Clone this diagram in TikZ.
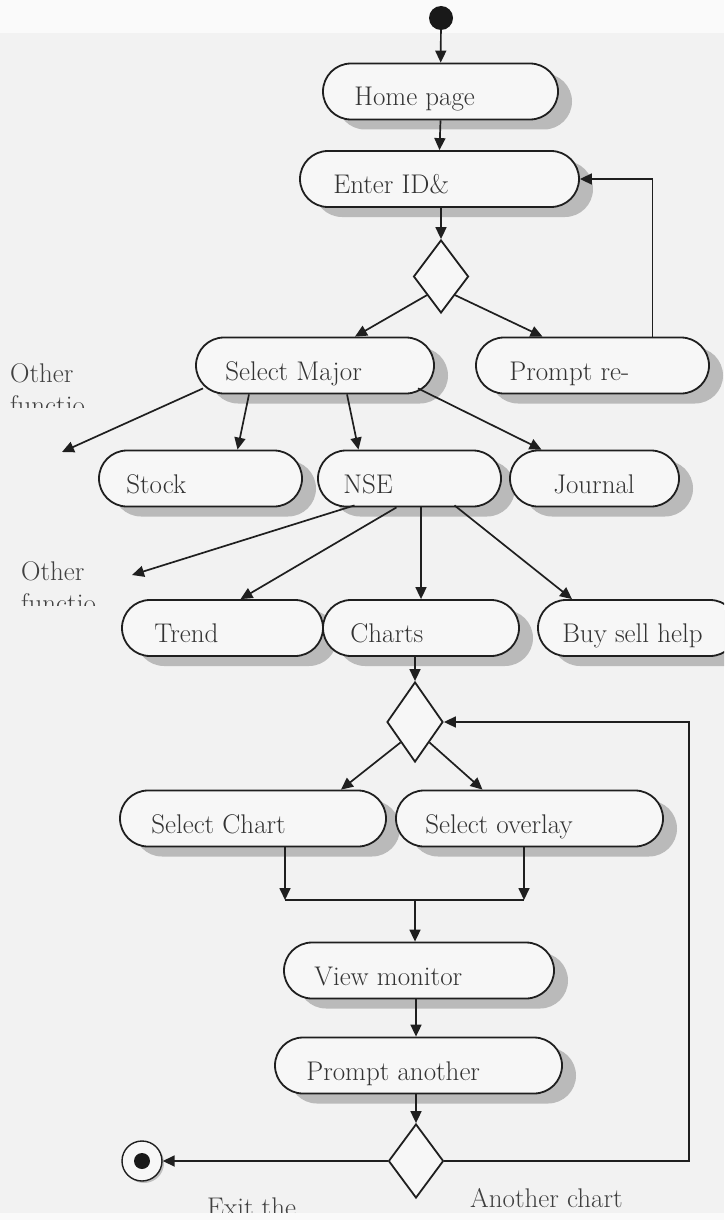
\documentclass[tikz,border=0pt]{standalone}
\usetikzlibrary{shapes.misc,shapes.geometric,shadows,arrows.meta}
\begin{document}
\begin{tikzpicture}[x=1pt,y=-1pt,
  flow/.style={line width=1.7pt, draw=black!88, -{Triangle[length=12pt,width=11pt]}},
  plain/.style={line width=1.7pt, draw=black!88},
  stadium/.style={rounded rectangle, draw=black!88, line width=1.8pt, fill=black!3,
    minimum height=56pt, inner sep=0pt,
    drop shadow={shadow xshift=14pt, shadow yshift=-10pt, fill=black!27, opacity=1}},
  choice/.style={diamond, draw=black!88, line width=1.8pt, fill=black!3, inner sep=0pt},
  boxtext/.style={anchor=base west, inner sep=0pt, font=\fontsize{27}{32}\selectfont, text=black!80},
  note/.style={anchor=base west, inner sep=0pt, font=\fontsize{27}{32}\selectfont, text=black!75}
]
% activity box: name, x, y, width, text indent, label
\newcommand\actbox[6]{%
  \node[stadium, minimum width=#4pt] (#1) at (#2,#3) {};
  \node[boxtext] (#1-t) at ([xshift=#5pt,yshift=-14.5pt]#1.west) {#6};
}
\clip (0,0) rectangle (724,1220);
\fill[black!5] (0,0) rectangle (724,1220);
\fill[black!2] (0,0) rectangle (724,33);

% initial node
\node[circle, fill=black!90, minimum size=24pt, inner sep=0pt] (start) at (441,18) {};

% activities and decisions
\actbox{home}{440.5}{91.5}{235}{32}{Home page}
\actbox{eid}{439.5}{179}{279}{34}{Enter ID\&}
\node[choice, minimum width=55pt, minimum height=73pt] (d1) at (441,276.5) {};
\actbox{sm}{315}{365.5}{238}{30}{Select Major}
\actbox{pr}{592.5}{365.5}{233}{34}{Prompt re-}
\actbox{stock}{200.5}{478.5}{203}{28}{Stock}
\actbox{nse}{409.5}{478.5}{183}{26}{NSE}
\actbox{jour}{594.5}{478.5}{169}{44}{Journal}
\actbox{trend}{222.5}{628}{201}{33}{Trend}
\actbox{charts}{421}{628}{196}{28}{Charts}
\actbox{buy}{638}{628}{200}{25}{Buy sell help}
\node[choice, minimum width=56pt, minimum height=80pt] (d2) at (415,722) {};
\actbox{sc}{253}{818.5}{266}{32}{Select Chart}
\actbox{so}{529.5}{818.5}{267}{30}{Select overlay}
\actbox{vm}{419}{970.5}{270}{31}{View monitor}
\actbox{pa}{418.5}{1065.5}{287}{32}{Prompt another}
\node[choice, minimum width=55pt, minimum height=74pt] (d3) at (416,1161) {};

% final node
\node[circle, draw=black!88, line width=1.4pt, fill=black!3, minimum size=40pt, inner sep=0pt,
  drop shadow={shadow xshift=2pt, shadow yshift=-2pt, fill=black!25, opacity=1}] (fin) at (142,1161) {};
\node[circle, fill=black!90, minimum size=16pt, inner sep=0pt] (fin-dot) at (fin) {};

% side notes
\node[note] (of1a) at (10,382) {Other};
\begin{scope}
  \clip (0,390) rectangle (200,407);
  \node[note] (of1b) at (10,414) {functio};
\end{scope}
\node[note] (of2a) at (21,580) {Other};
\begin{scope}
  \clip (0,588) rectangle (200,605);
  \node[note] (of2b) at (21,612) {functio};
\end{scope}
\node[note] (exit) at (207,1216) {Exit the};
\node[note] (again) at (470,1207) {Another chart};

% free ends of the "other function" arrows
\coordinate (of1end) at (62,452);
\coordinate (of2end) at (132,575);
% synchronisation bar
\coordinate (barL) at (285,900);
\coordinate (barR) at (524,900);
\coordinate (barM) at (415,900);
% loop corner
\coordinate (loopx) at (689,722);

% connectors
\draw[flow] (start) -- (home);
\draw[flow] (home.south) -- (eid.north);
\draw[flow] ([xshift=1.5pt]eid.south) -- (d1.north);
\draw[flow] (d1.south west) -- ([xshift=40pt]sm.north);
\draw[flow] (d1.south east) -- ([xshift=-50pt]pr.north);
\draw[flow] ([xshift=60pt]pr.north) |- (eid.east);

\draw[flow] ([xshift=-112pt,yshift=6pt]sm.south) -- (of1end);
\draw[flow] ([xshift=-66pt]sm.south) -- ([xshift=37pt]stock.north);
\draw[flow] ([xshift=32pt]sm.south) -- ([xshift=-51pt]nse.north);
\draw[flow] ([xshift=103pt,yshift=6pt]sm.south) -- ([xshift=-53pt]jour.north);

\draw[flow] ([xshift=-55pt,yshift=2pt]nse.south) -- (of2end);
\draw[flow] ([xshift=-13pt]nse.south) -- ([xshift=18pt]trend.north);
\draw[flow] ([xshift=11.5pt]nse.south) -- (charts.north);
\draw[flow] ([xshift=45pt,yshift=2pt]nse.south) -- ([xshift=-66pt]buy.north);

\draw[flow] ([xshift=-6pt]charts.south) -- (d2.north);
\draw[flow] (d2.south west) -- ([xshift=88pt]sc.north);
\draw[flow] (d2.south east) -- ([xshift=-47pt]so.north);
\draw[flow] ([xshift=32pt]sc.south) -- (barL);
\draw[flow] ([xshift=-5.5pt]so.south) -- (barR);
\draw[plain] (barL) -- (barR);
\draw[flow] (barM) -- ([xshift=-4pt]vm.north);
\draw[flow] ([xshift=-3pt]vm.south) -- ([xshift=-2.5pt]pa.north);
\draw[flow] ([xshift=-2.5pt]pa.south) -- (d3.north);
\draw[flow] (d3.west) -- (fin.east);
\draw[flow] (d3.east) -| (loopx) |- (d2.east);

% lighter strip along the lower edge
\fill[black!2] (0,1213) rectangle (724,1220);
\end{tikzpicture}
\end{document}
